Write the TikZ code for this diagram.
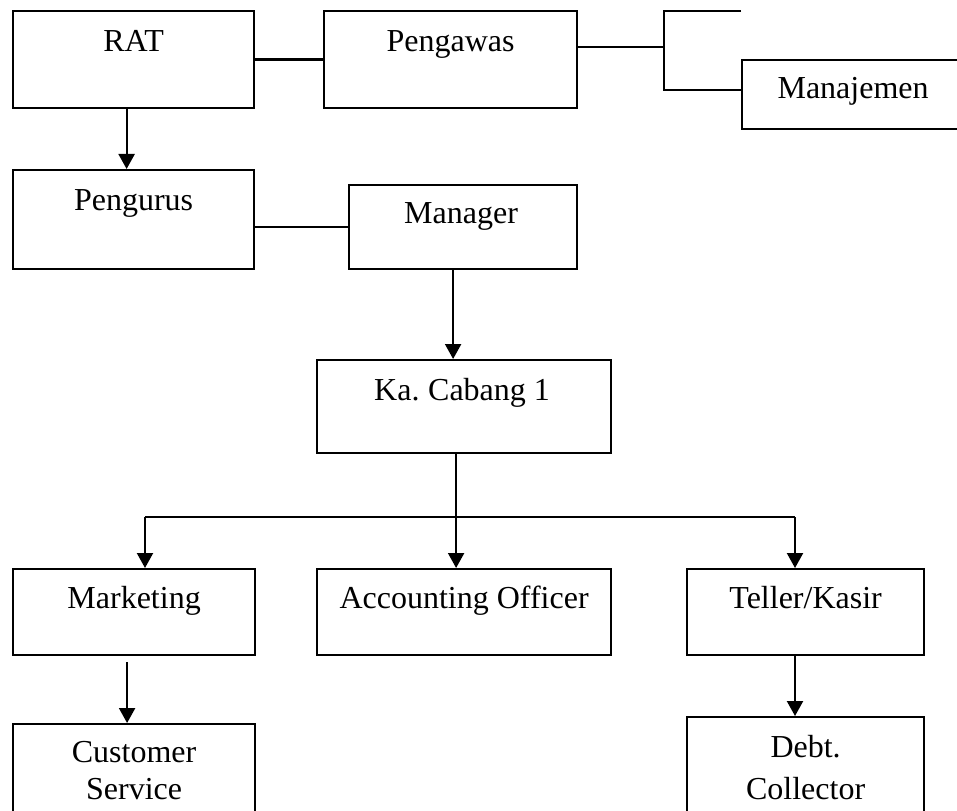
\documentclass[tikz,border=0pt]{standalone}
\usepackage{fontspec}
\setmainfont{Liberation Serif}
\usetikzlibrary{arrows.meta}
\begin{document}
\begin{tikzpicture}[x=1pt,y=-1pt,
  box/.style={draw,line width=2.2pt,anchor=north west,inner sep=0pt},
  txt/.style={anchor=base,inner sep=0pt,font=\fontsize{32}{38}\selectfont},
  ln/.style={line width=2.2pt},
  arr/.style={line width=2.2pt,-{Triangle[width=16pt,length=15pt]}}]
\clip (0,0) rectangle (957,810);
\fill[white] (0,0) rectangle (957,810);
% boxes
\node[box,minimum width=241,minimum height=97] (rat) at (12,10) {};
\node[box,minimum width=253,minimum height=97] (peng) at (323,10) {};
\node[box,minimum width=222,minimum height=69] (manaj) at (741,59) {};
\node[box,minimum width=241,minimum height=99] (pengurus) at (12,169) {};
\node[box,minimum width=228,minimum height=84] (manager) at (348,184) {};
\node[box,minimum width=294,minimum height=93] (kacab) at (316,359) {};
\node[box,minimum width=242,minimum height=86] (mkt) at (12,568) {};
\node[box,minimum width=294,minimum height=86] (acc) at (316,568) {};
\node[box,minimum width=237,minimum height=86] (tel) at (686,568) {};
\node[box,minimum width=242,minimum height=110] (cs) at (12,723) {};
\node[box,minimum width=237,minimum height=117] (dc) at (686,716) {};
% texts
\node[txt] (ratT) at ([yshift=-42pt]rat.north) {RAT};
\node[txt] (pengT) at ([yshift=-42pt]peng.north) {Pengawas};
\node[txt] (manajT) at ([yshift=-40pt]manaj.north) {Manajemen};
\node[txt] (pengurusT) at ([yshift=-42pt]pengurus.north) {Pengurus};
\node[txt] (managerT) at ([yshift=-40pt,xshift=-2pt]manager.north) {Manager};
\node[txt] (kacabT) at ([yshift=-41pt,xshift=-2pt]kacab.north) {Ka.\kern-2pt{} Cabang 1};
\node[txt] (mktT) at ([yshift=-40pt]mkt.north) {Marketing};
\node[txt] (accT) at ([yshift=-40pt]acc.north) {Accounting Officer};
\node[txt] (telT) at ([yshift=-40pt]tel.north) {Teller/Kasir};
\node[txt] (csT1) at ([yshift=-39pt]cs.north) {Customer};
\node[txt] (csT2) at ([yshift=-76pt]cs.north) {Service};
\node[txt] (dcT1) at ([yshift=-41pt]dc.north) {Debt.};
\node[txt] (dcT2) at ([yshift=-83pt]dc.north) {Collector};
% connectors
\draw[ln] (rat.east) -- (peng.west);
\coordinate (br) at (664,47);
\coordinate (brTop) at (664,11);
\coordinate (brTopEnd) at (741,11);
\coordinate (brBot) at (664,90);
\draw[ln] (br -| peng.east) -- (br);
\draw[ln] (brTopEnd) -- (brTop) -- (brBot) -- (brBot -| manaj.west);
\draw[arr] ([xshift=-7pt]rat.south) -- ([xshift=-7pt]rat.south |- pengurus.north);
\draw[ln] (manager.west) -- (manager.west -| pengurus.east);
\draw[arr] ([xshift=-10pt]manager.south) -- ([xshift=-10pt]manager.south |- kacab.north);
\coordinate (jn) at ([xshift=-8pt,yshift=-65pt]kacab.south);
\coordinate (jl) at (145,517);
\coordinate (jr) at (795,517);
\draw[ln] ([xshift=-8pt]kacab.south) -- (jn);
\draw[ln] (jl) -- (jr);
\draw[arr] (jl) -- (jl |- mkt.north);
\draw[arr] (jn) -- (jn |- acc.north);
\draw[arr] (jr) -- (jr |- tel.north);
\draw[arr] ([xshift=-7pt,yshift=-6pt]mkt.south) -- ([xshift=-7pt]mkt.south |- cs.north);
\draw[arr] (tel.south -| jr) -- (jr |- dc.north);
\end{tikzpicture}
\end{document}
